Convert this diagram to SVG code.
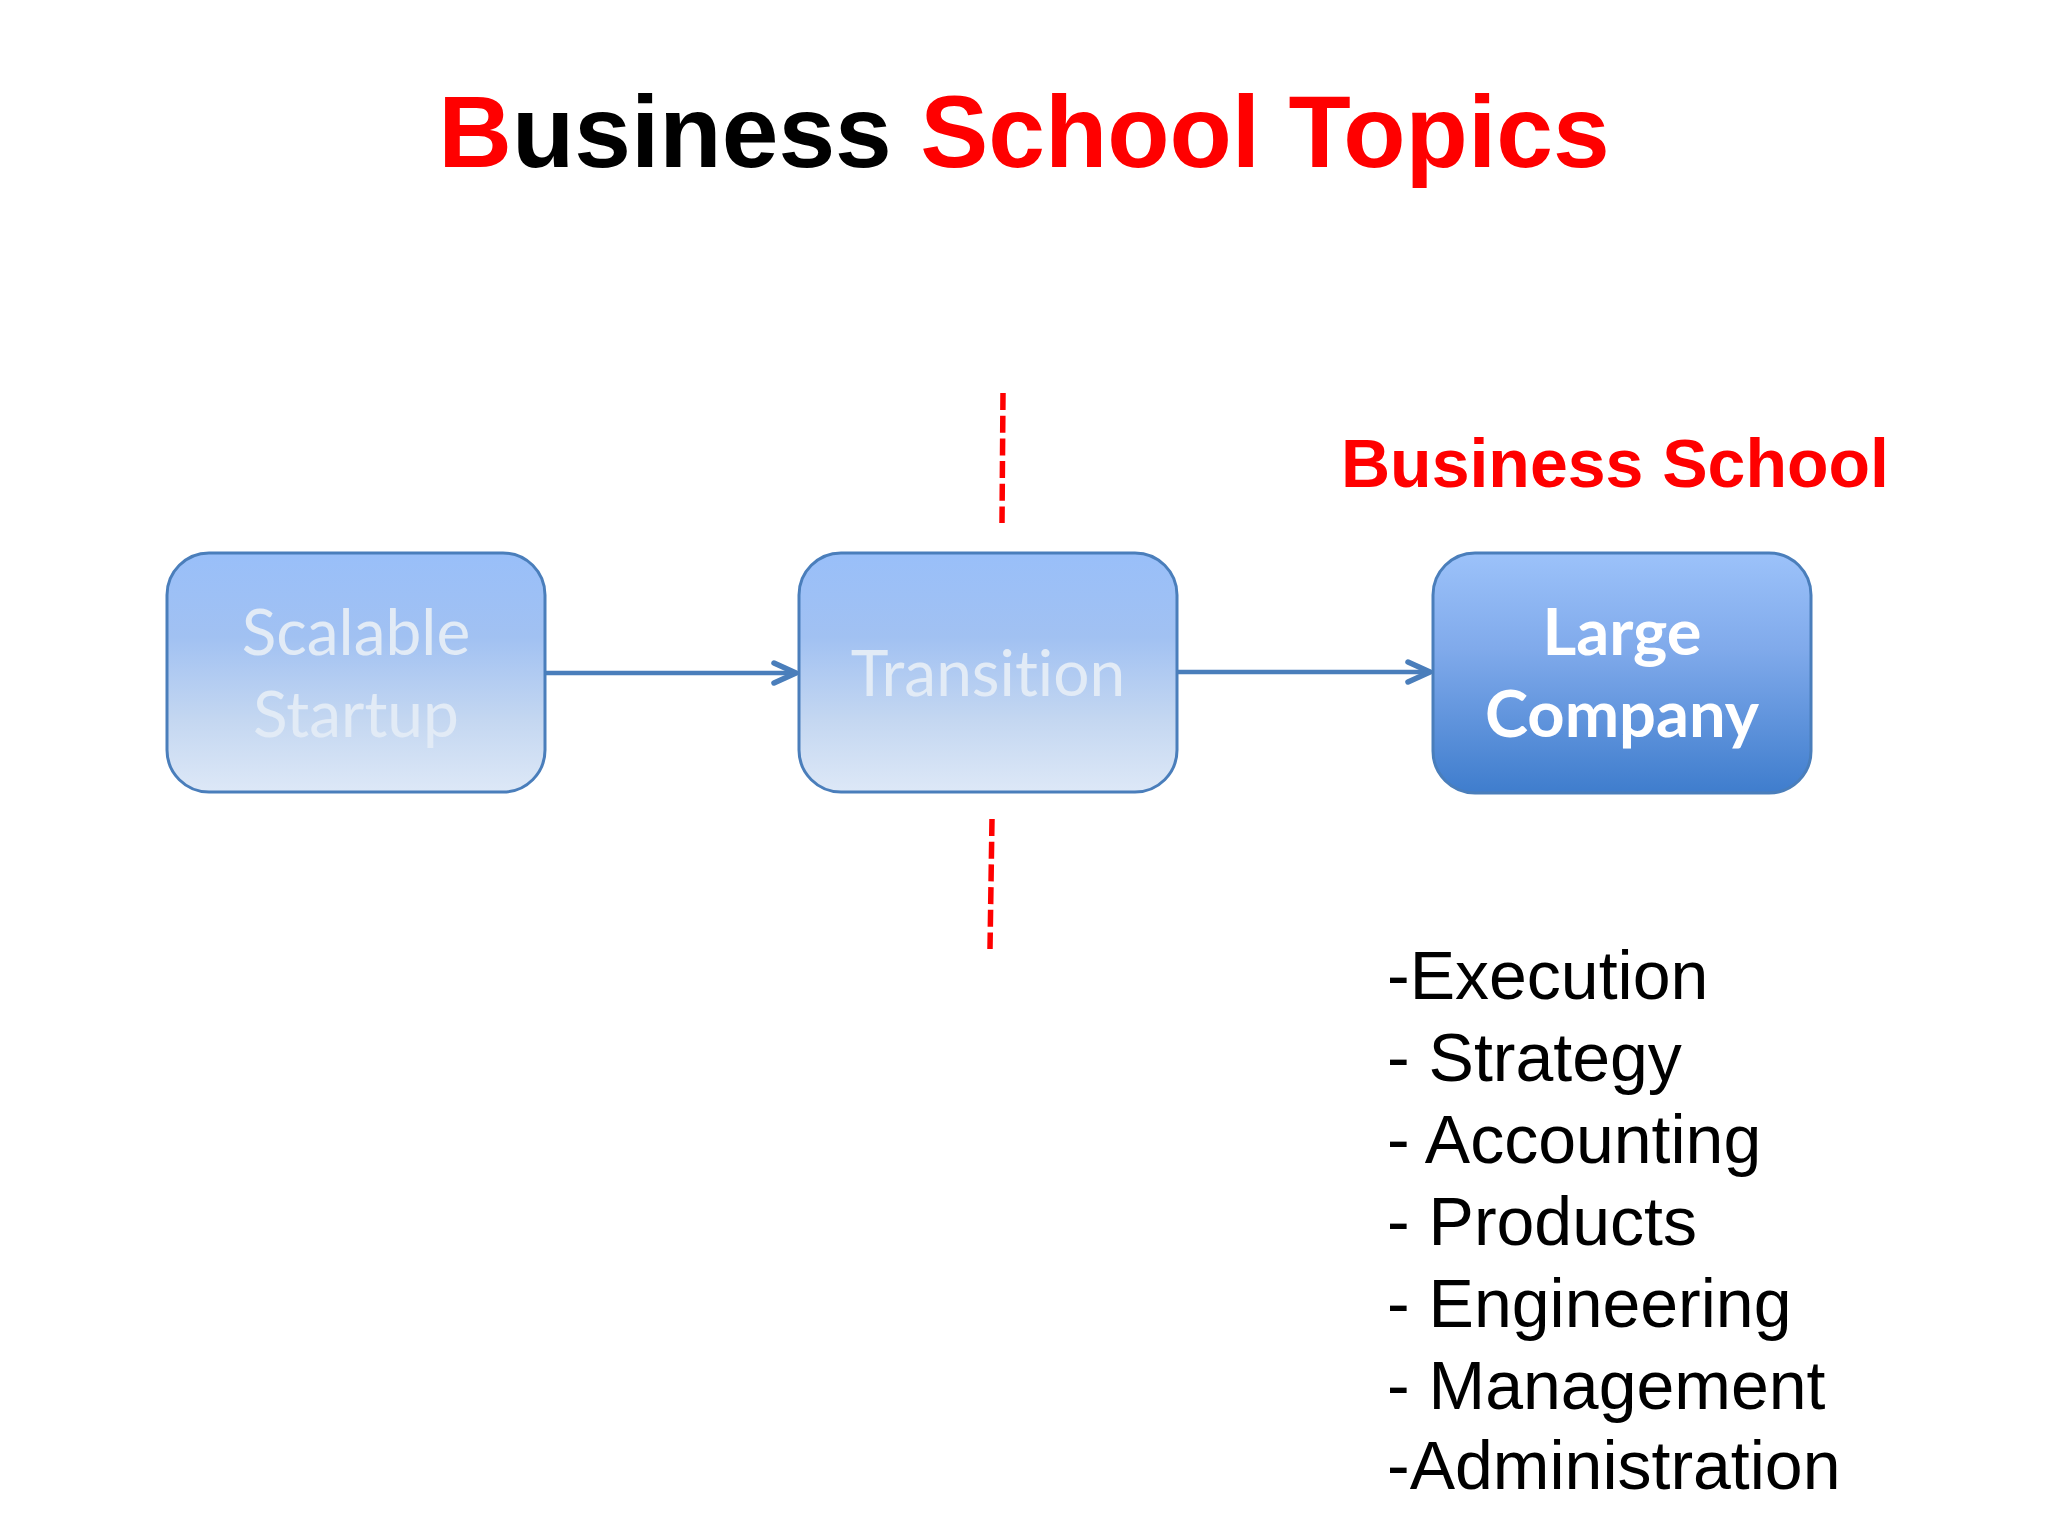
<svg xmlns="http://www.w3.org/2000/svg" width="2048" height="1536" viewBox="0 0 2048 1536">
  <defs>
    <linearGradient id="gFaded" x1="0" y1="0" x2="0" y2="1">
      <stop offset="0" stop-color="#99bff9"/>
      <stop offset="0.35" stop-color="#a1c1f2"/>
      <stop offset="0.7" stop-color="#c4d7f1"/>
      <stop offset="1" stop-color="#dde8f7"/>
    </linearGradient>
    <linearGradient id="gStrong" x1="0" y1="0" x2="0" y2="1">
      <stop offset="0" stop-color="#9cc2fa"/>
      <stop offset="0.4" stop-color="#80aaeb"/>
      <stop offset="1" stop-color="#3f7dcd"/>
    </linearGradient>
    <marker id="chev" markerUnits="userSpaceOnUse" viewBox="-26 -14 30 28" refX="0" refY="0" markerWidth="30" markerHeight="28" orient="auto">
      <polyline points="-22,-10 0,0 -22,10" fill="none" stroke="#4a7ebb" stroke-width="5.5" stroke-linecap="round" stroke-linejoin="round"/>
    </marker>
    <style>
      .box { stroke: #4a7ebb; stroke-width: 3; }
      .faded { fill: url(#gFaded); }
      .strong { fill: url(#gStrong); }
      .fadedText { font-family: "Lato", "Open Sans", sans-serif; font-size: 64px; fill: #e2ebf6; text-anchor: middle; font-variant-ligatures: none; }
      .boldText { font-family: "Lato", "Open Sans", sans-serif; font-weight: bold; font-size: 65px; fill: #ffffff; text-anchor: middle; font-variant-ligatures: none; }
      .conn { stroke: #4a7ebb; stroke-width: 4.5; fill: none; }
      .divider { stroke: #ff0000; stroke-width: 5.5; stroke-dasharray: 17 5.7; fill: none; }
      .list { font-family: "Liberation Sans", Arial, sans-serif; font-size: 68px; fill: #000000; }
      .title { font-family: "Liberation Sans", Arial, sans-serif; font-weight: bold; }
    </style>
  </defs>
  <rect width="2048" height="1536" fill="#ffffff"/>

  <g id="title">
    <text class="title" x="1024" y="167" font-size="102" text-anchor="middle"><tspan fill="#ff0000">B</tspan><tspan fill="#000000">usiness </tspan><tspan fill="#ff0000">School Topics</tspan></text>
  </g>

  <g id="business-school-label">
    <text class="title" x="1341" y="487" font-size="68" fill="#ff0000">Business School</text>
  </g>

  <g id="dividers">
    <line class="divider" x1="1003" y1="393" x2="1002" y2="523"/>
    <line class="divider" x1="992" y1="819" x2="990" y2="949"/>
  </g>

  <g id="connectors">
    <line class="conn" x1="545" y1="673" x2="796" y2="673" marker-end="url(#chev)"/>
    <line class="conn" x1="1177" y1="672" x2="1430" y2="672" marker-end="url(#chev)"/>
  </g>

  <g id="node-scalable-startup">
    <rect class="box faded" x="167" y="553" width="378" height="239" rx="42" ry="42"/>
    <text class="fadedText" x="356" y="655">Scalable</text>
    <text class="fadedText" x="356" y="737">Startup</text>
  </g>

  <g id="node-transition">
    <rect class="box faded" x="799" y="553" width="378" height="239" rx="42" ry="42"/>
    <text class="fadedText" x="988" y="696">Transition</text>
  </g>

  <g id="node-large-company">
    <rect class="box strong" x="1433" y="553" width="378" height="240" rx="42" ry="42"/>
    <text class="boldText" x="1622" y="655">Large</text>
    <text class="boldText" x="1622" y="737">Company</text>
  </g>

  <g id="topics-list">
    <text class="list" x="1387" y="999">-Execution</text>
    <text class="list" x="1387" y="1081">- Strategy</text>
    <text class="list" x="1387" y="1163">- Accounting</text>
    <text class="list" x="1387" y="1245">- Products</text>
    <text class="list" x="1387" y="1327">- Engineering</text>
    <text class="list" x="1387" y="1409">- Management</text>
    <text class="list" x="1387" y="1489">-Administration</text>
  </g>
</svg>
